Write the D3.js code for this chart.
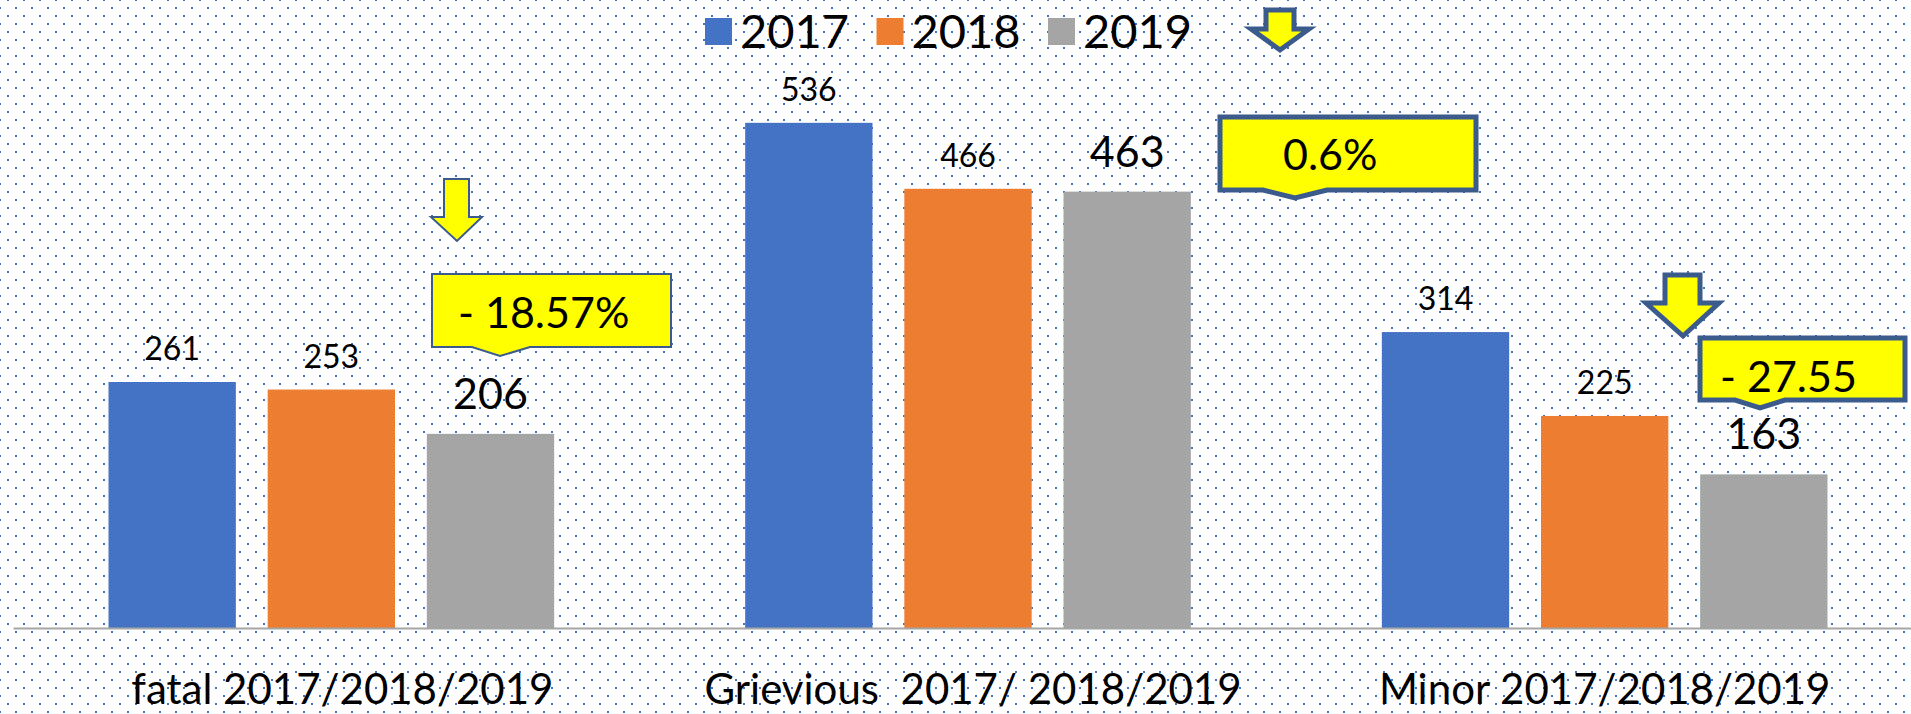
<!DOCTYPE html>
<html>
<head>
<meta charset="utf-8">
<script src="https://cdn.jsdelivr.net/npm/d3@7"></script>
<style>
  body { margin: 0; background: #fff; }
  svg text { font-family: Lato, "Open Sans", sans-serif; fill: #000; }
</style>
</head>
<body>
<div class="chart"></div>
<script>
// data
var categories = ["fatal 2017/2018/2019", "Grievious  2017/ 2018/2019", "Minor 2017/2018/2019"];
var years = ["2017", "2018", "2019"];
var values2017 = [261, 536, 314];
var values2018 = [253, 466, 225];
var values2019 = [206, 463, 163];
var changeLabels = ["- 18.57%", "0.6%", "- 27.55"];

var colors = { "2017": "#4472C4", "2018": "#ED7D31", "2019": "#A5A5A5" };

var svgWidth = 1911;
var svgHeight = 714;
var baseY = 628;

var svg = d3.select(".chart")
  .append("svg")
  .attr("width", svgWidth)
  .attr("height", svgHeight);

// dotted background
var defs = svg.append("defs");
var pat = defs.append("pattern")
  .attr("id", "dots")
  .attr("patternUnits", "userSpaceOnUse")
  .attr("x", 4).attr("y", 12)
  .attr("width", 16).attr("height", 16);
pat.append("rect").attr("x", 3).attr("y", 3).attr("width", 2).attr("height", 2).attr("fill", "#4472C4");
pat.append("rect").attr("x", 11).attr("y", 11).attr("width", 2).attr("height", 2).attr("fill", "#4472C4");

svg.append("rect")
  .attr("width", svgWidth)
  .attr("height", svgHeight)
  .attr("fill", "#fff");
svg.append("rect")
  .attr("width", svgWidth)
  .attr("height", svgHeight)
  .attr("fill", "url(#dots)");

// scales
var x0 = d3.scaleBand()
  .domain(categories)
  .range([13, 1923]);

var x1 = d3.scaleBand()
  .domain(years)
  .range([0, x0.bandwidth()])
  .paddingInner(0.2)
  .paddingOuter(0.6);

var y = d3.scaleLinear()
  .domain([0, 600])
  .range([baseY, baseY - 565.5]);

var rows = categories.map(function(c, i) {
  return { cat: c, vals: [
    { year: "2017", v: values2017[i] },
    { year: "2018", v: values2018[i] },
    { year: "2019", v: values2019[i] }
  ] };
});

var groups = svg.selectAll(".grp")
  .data(rows)
  .enter()
  .append("g")
  .attr("class", "grp")
  .attr("transform", d => `translate(${x0(d.cat)},0)`);

groups.selectAll("rect")
  .data(d => d.vals)
  .enter()
  .append("rect")
  .attr("x", d => x1(d.year))
  .attr("y", d => y(d.v))
  .attr("width", x1.bandwidth())
  .attr("height", d => baseY - y(d.v))
  .attr("fill", d => colors[d.year]);

// value labels, 2019 ones are bigger
groups.selectAll(".val")
  .data(d => d.vals)
  .enter()
  .append("text")
  .attr("class", "val")
  .attr("x", d => x1(d.year) + x1.bandwidth() / 2)
  .attr("y", d => y(d.v) - (d.year === "2019" ? 25 : 22))
  .attr("text-anchor", "middle")
  .style("font-size", d => d.year === "2019" ? "43px" : "32px")
  .text(d => d.v);

// category axis
var xAxis = svg.append("g")
  .attr("transform", `translate(0,${baseY})`)
  .call(d3.axisBottom(x0).tickSize(0).tickPadding(0));

xAxis.select(".domain")
  .attr("stroke", "#A6A6A6")
  .attr("stroke-width", 2);

var labelShift = [11, 5, 0];
xAxis.selectAll(".tick text")
  .attr("dy", 0)
  .attr("y", 76)
  .attr("dx", (d, i) => labelShift[i])
  .style("font-size", "42px")
  .style("white-space", "pre")
  .attr("fill", "#000");

// legend
var legend = svg.append("g")
  .selectAll("g")
  .data(years)
  .enter()
  .append("g")
  .attr("transform", (d, i) => `translate(${705 + i * 171.5},0)`);

legend.append("rect")
  .attr("y", 18)
  .attr("width", 27)
  .attr("height", 27)
  .attr("fill", d => colors[d]);

legend.append("text")
  .attr("x", 35)
  .attr("y", 48)
  .style("font-size", "47px")
  .text(d => d);

// yellow callouts and arrows
var edge = "#3B5B8C";
var callouts = [
  { box: [432, 274, 671, 347], notch: [472, 530, 500, 356], sw: 2, tx: 458, ty: 328 },
  { box: [1220, 117, 1476, 190], notch: [1263, 1327, 1295, 198], sw: 5, tx: 1283, ty: 170 },
  { box: [1700, 338, 1905, 400], notch: [1735, 1785, 1760, 408], sw: 5, tx: 1720, ty: 392 }
];
var arrows = [
  { sl: 444, sr: 469, top: 179, hy: 217, hl: 431, hr: 482, tx: 457, ty: 241, sw: 2 },
  { sl: 1266, sr: 1294, top: 10, hy: 29, hl: 1251, hr: 1309, tx: 1280, ty: 50, sw: 5 },
  { sl: 1665, sr: 1700, top: 275, hy: 303, hl: 1646, hr: 1719, tx: 1683, ty: 336, sw: 5 }
];

svg.selectAll(".arrow")
  .data(arrows)
  .enter()
  .append("path")
  .attr("class", "arrow")
  .attr("d", a => `M${a.sl},${a.top}H${a.sr}V${a.hy}H${a.hr}L${a.tx},${a.ty}L${a.hl},${a.hy}H${a.sl}Z`)
  .attr("fill", "#FFFF00")
  .attr("stroke", edge)
  .attr("stroke-width", a => a.sw)
  .attr("stroke-linejoin", "miter");

svg.selectAll(".callout")
  .data(callouts)
  .enter()
  .append("path")
  .attr("class", "callout")
  .attr("d", c => `M${c.box[0]},${c.box[1]}H${c.box[2]}V${c.box[3]}H${c.notch[1]}L${c.notch[2]},${c.notch[3]}L${c.notch[0]},${c.box[3]}H${c.box[0]}Z`)
  .attr("fill", "#FFFF00")
  .attr("stroke", edge)
  .attr("stroke-width", c => c.sw);

svg.selectAll(".calltext")
  .data(callouts)
  .enter()
  .append("text")
  .attr("class", "calltext")
  .attr("x", c => c.tx)
  .attr("y", c => c.ty)
  .style("font-size", "43px")
  .text((c, i) => changeLabels[i]);
</script>
</body>
</html>
